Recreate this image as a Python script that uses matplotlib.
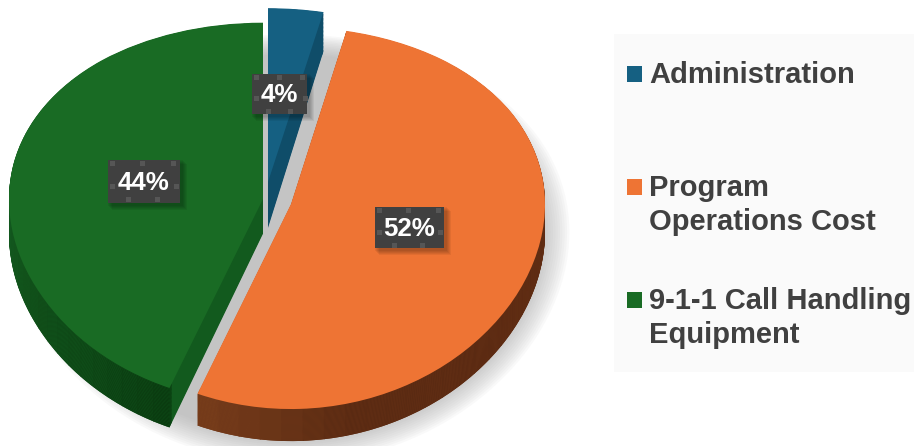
import numpy as np
import matplotlib
matplotlib.use('Agg')
import matplotlib.pyplot as plt
from matplotlib.colors import to_rgb
from matplotlib.patches import Wedge, Rectangle

plt.rcParams['font.family'] = ['Liberation Sans', 'DejaVu Sans']

# values, labels as printed on the chart
categories = ['Administration', 'Program\nOperations Cost', '9-1-1 Call Handling\nEquipment']
values = [3.5, 52.5, 44.0]
value_labels = ['4%', '52%', '44%']
colors = ['#156082', '#EE7434', '#196B24']

# look of the 3d slices: apex in pixels, depth, side colours
apex_px = [(268, 182), (291, 204), (263, 199)]
depths = [0.24, 0.145, 0.18]
cut_colors = ['#0F4D69', '#6E3518', '#125A1E']
rim_light = ['#0F4D69', '#7A3F1C', '#14591F']
rim_dark = ['#0F4D69', '#5A2A12', '#0A3A10']
rim_anchor = [(75, 30), (248, 35), (180, 68)]

label_boxes = [(252, 74, 55, 40), (375, 207, 69, 41), (108, 160, 72, 43)]
legend_y = [73, 186, 299]
legend_squares = [66, 179, 292]

# the pie is flattened and seen in perspective, near half is taller than far half
A, B, CY = 190.0, 14.0, 197.0
RX = 254.0


def forward(y):
    return A * np.asarray(y) - B * np.asarray(y) ** 2


def inverse(p):
    return (A - np.sqrt(A ** 2 - 4 * B * np.asarray(p))) / (2 * B)


def mix(c1, c2, t):
    return tuple((1 - t) * a + t * b for a, b in zip(to_rgb(c1), to_rgb(c2)))


fig = plt.figure(figsize=(9.14, 4.46), dpi=100)
ax = fig.add_axes([0, 0, 1, 1])
ax.set_yscale('function', functions=(forward, inverse))
ax.set_xlim(0, 914 / RX)
ax.set_ylim(float(inverse(CY - 446)), float(inverse(CY)))
ax.axis('off')

# soft shadow under the pie
cx_sh, cy_sh = 290 / RX, float(inverse(CY - 232))
for r in np.linspace(1.10, 0.98, 14):
    ax.add_patch(Wedge((cx_sh, cy_sh), r, 0, 360, fc='#A0A0A0', ec='none', alpha=0.06))

angles = []
start = 90.0
for v in values:
    angles.append((start - v * 3.6, start))
    start -= v * 3.6

for i in [2, 0, 1]:
    t1, t2 = angles[i]
    cx = apex_px[i][0] / RX
    cy = float(inverse(CY - apex_px[i][1]))
    # side wall built from stacked layers, deepest first
    for d in np.linspace(depths[i], 0.004, 30):
        ax.add_patch(Wedge((cx, cy - d), 1, t1, t2, fc=cut_colors[i], ec='none'))
        edges = np.linspace(t1, t2, 40)
        for a, b in zip(edges[:-1], edges[1:]):
            mid = (a + b) / 2 % 360
            t = min(abs(mid - rim_anchor[i][0]) / rim_anchor[i][1], 1)
            ax.add_patch(Wedge((cx, cy - d), 1, a, min(b + 0.3, t2), width=0.025,
                               fc=mix(rim_light[i], rim_dark[i], t), ec='none'))
    ax.add_patch(Wedge((cx, cy), 1, t1, t2, fc=colors[i], ec='none'))

# overlay in pixel coordinates for the labels and the legend
ov = fig.add_axes([0, 0, 1, 1])
ov.set_xlim(0, 914)
ov.set_ylim(446, 0)
ov.axis('off')
ov.patch.set_alpha(0)

for (x, y, w, h), lab in zip(label_boxes, value_labels):
    for k in range(5):
        ov.add_patch(Rectangle((x + k, y + k), w + 3, h + 3, fc='black', ec='none', alpha=0.06))
    ov.add_patch(Rectangle((x, y), w, h, fc='#404040', ec='none'))
    for fx, fy in [(0.03, 0.03), (0.45, 0.03), (0.88, 0.03), (0.03, 0.55), (0.92, 0.55),
                   (0.25, 0.87), (0.65, 0.87)]:
        ov.add_patch(Rectangle((x + fx * w, y + fy * h), 5, 5, fc='#565656', ec='none'))
    ov.text(x + w / 2, y + h / 2 + 1, lab, color='white', fontsize=18.6, fontweight='bold',
            ha='center', va='center')

ov.add_patch(Rectangle((614, 34), 300, 338, fc='#FAFAFA', ec='none', zorder=0))
for name, c, y, sq in zip(categories, colors, legend_y, legend_squares):
    ov.add_patch(Rectangle((627, sq), 15, 15.5, fc=c, ec='none'))
    ov.text(649, y - 12, name, color='#404040', fontsize=21, fontweight='bold',
            ha='left', va='top', linespacing=1.26)

fig.savefig('out.png', dpi=100)
